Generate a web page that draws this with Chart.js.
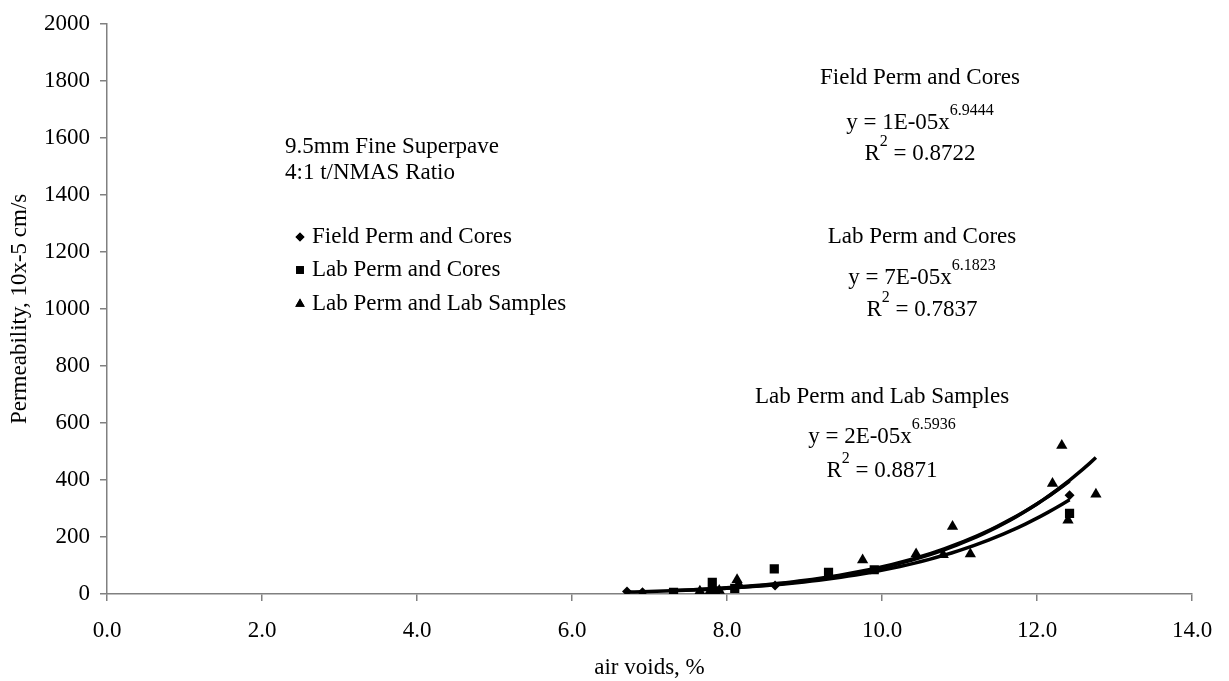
<!DOCTYPE html>
<html>
<head>
<meta charset="utf-8">
<script src="https://cdn.jsdelivr.net/npm/chart.js@4.4.1/dist/chart.umd.min.js"></script>
<style>
    html, body { margin: 0; padding: 0; background: #fff; }
    #wrap { width: 1229px; height: 681px; }
</style>
</head>
<body>
<div id="wrap"><canvas id="chart"></canvas></div>
<script>
// air voids (%) and permeability (10x-5 cm/s)
const fieldVoids = [6.71, 6.91, 8.62, 12.42];
const fieldPerm = [9, 6, 30, 346];

const labCoreVoids = [7.31, 7.81, 7.85, 8.10, 8.61, 9.31, 9.90, 12.42];
const labCorePerm = [6, 41, 10, 20, 88, 76, 85, 283];

const labSampleVoids = [7.65, 7.78, 7.90, 8.13, 8.15, 9.75, 10.44, 10.79, 10.91, 11.14, 12.20, 12.32, 12.40, 12.76];
const labSamplePerm = [10, 10, 12, 50, 35, 119, 140, 138, 237, 140, 388, 521, 259, 350];

const seriesNames = ["Field Perm and Cores", "Lab Perm and Cores", "Lab Perm and Lab Samples"];
const seriesStyles = ["rectRot", "rect", "triangle"];

const xTicks = [0, 2, 4, 6, 8, 10, 12, 14];
const yTicks = [0, 200, 400, 600, 800, 1000, 1200, 1400, 1600, 1800, 2000];

const noteLines = ["9.5mm Fine Superpave", "4:1 t/NMAS Ratio"];
const eqTitles = ["Field Perm and Cores", "Lab Perm and Cores", "Lab Perm and Lab Samples"];
const eqCoef = ["y = 1E-05x", "y = 7E-05x", "y = 2E-05x"];
const eqExp = ["6.9444", "6.1823", "6.5936"];
const eqR2 = ["0.8722", "0.7837", "0.8871"];

const FONT = "'Liberation Serif', 'Times New Roman', serif";
const BIG = "23px " + FONT;
const SUP = "16px " + FONT;

// power trendline y = a*x^b, least squares in log space (like Excel)
function powerFit(xs, ys) {
    const n = xs.length;
    let sx = 0, sy = 0, sxy = 0, sxx = 0;
    for (let i = 0; i < n; i++) {
        const lx = Math.log(xs[i]), ly = Math.log(ys[i]);
        sx += lx; sy += ly; sxy += lx * ly; sxx += lx * lx;
    }
    const b = (n * sxy - sx * sy) / (n * sxx - sx * sx);
    const a = Math.exp((sy - b * sx) / n);
    const lo = Math.min(...xs), hi = Math.max(...xs);
    const pts = [];
    for (let i = 0; i <= 60; i++) {
        const x = lo + (hi - lo) * i / 60;
        pts.push({ x: x, y: a * Math.pow(x, b) });
    }
    return pts;
}

function toPoints(xs, ys) {
    return xs.map((x, i) => ({ x: x, y: ys[i] }));
}

const allX = [fieldVoids, labCoreVoids, labSampleVoids];
const allY = [fieldPerm, labCorePerm, labSamplePerm];
const radii = [5, 6.5, 6.5];

const datasets = [];
allX.forEach((xs, i) => {
    datasets.push({
        label: seriesNames[i],
        data: toPoints(xs, allY[i]),
        pointStyle: seriesStyles[i],
        pointRadius: radii[i],
        backgroundColor: "#000",
        borderColor: "#000",
        borderWidth: 0,
        showLine: false,
        order: 1
    });
});
allX.forEach((xs, i) => {
    datasets.push({
        label: seriesNames[i] + " trend",
        data: powerFit(xs, allY[i]),
        showLine: true,
        pointRadius: 0,
        borderColor: "#000",
        borderWidth: 3.5,
        tension: 0,
        order: 2
    });
});

function drawEquation(ctx, cx, cy, base, sup) {
    ctx.font = BIG;
    const wb = ctx.measureText(base).width;
    ctx.font = SUP;
    const ws = ctx.measureText(sup).width;
    const start = cx - (wb + ws) / 2;
    ctx.textAlign = "left";
    ctx.font = BIG;
    ctx.fillText(base, start, cy);
    ctx.font = SUP;
    ctx.fillText(sup, start + wb, cy - 12);
}

function drawR2(ctx, cx, cy, value) {
    ctx.font = BIG;
    const wR = ctx.measureText("R").width;
    const rest = " = " + value;
    const wRest = ctx.measureText(rest).width;
    ctx.font = SUP;
    const w2 = ctx.measureText("2").width;
    const start = cx - (wR + w2 + wRest) / 2;
    ctx.textAlign = "left";
    ctx.font = BIG;
    ctx.fillText("R", start, cy);
    ctx.fillText(rest, start + wR + w2, cy);
    ctx.font = SUP;
    ctx.fillText("2", start + wR, cy - 12);
}

const textPlugin = {
    id: "textPlugin",
    afterDraw(chart) {
        const ctx = chart.ctx;
        const area = chart.chartArea;
        ctx.save();
        ctx.fillStyle = "#000";
        ctx.textBaseline = "middle";

        // axis titles
        ctx.font = BIG;
        ctx.textAlign = "center";
        ctx.fillText("air voids, %", (area.left + area.right) / 2, 668);
        ctx.save();
        ctx.translate(20, (area.top + area.bottom) / 2);
        ctx.rotate(-Math.PI / 2);
        ctx.fillText("Permeability, 10x-5 cm/s", 0, 0);
        ctx.restore();

        // note
        ctx.textAlign = "left";
        ctx.fillText(noteLines[0], 285, 147);
        ctx.fillText(noteLines[1], 285, 173);

        // legend
        const legendY = [237, 270, 304];
        seriesNames.forEach((name, i) => {
            ctx.font = BIG;
            ctx.textAlign = "left";
            ctx.fillText(name, 312, legendY[i]);
            Chart.helpers.drawPoint(ctx, {
                pointStyle: seriesStyles[i],
                radius: i === 0 ? 4.5 : 5.5,
                borderWidth: 0
            }, 300, legendY[i]);
            ctx.fill();
        });

        // trendline labels
        const eqX = [920, 922, 882];
        const eqY = [[78, 123, 154], [237, 278, 310], [397, 437, 471]];
        eqTitles.forEach((t, i) => {
            ctx.font = BIG;
            ctx.textAlign = "center";
            ctx.fillText(t, eqX[i], eqY[i][0]);
            drawEquation(ctx, eqX[i], eqY[i][1], eqCoef[i], eqExp[i]);
            drawR2(ctx, eqX[i], eqY[i][2], eqR2[i]);
        });
        ctx.restore();
    }
};

new Chart(document.getElementById("chart"), {
    type: "scatter",
    data: { datasets: datasets },
    options: {
        responsive: true,
        maintainAspectRatio: false,
        animation: false,
        layout: { padding: { top: 18, right: 37, left: 0, bottom: 0 } },
        plugins: {
            legend: { display: false },
            tooltip: { enabled: false }
        },
        scales: {
            x: {
                type: "linear",
                min: 0,
                max: 14,
                afterBuildTicks: (scale) => { scale.ticks = xTicks.map(v => ({ value: v })); },
                afterFit: (scale) => { scale.height = 87; },
                ticks: {
                    color: "#000",
                    padding: 16,
                    font: { family: FONT, size: 23 },
                    callback: (v) => Number(v).toFixed(1)
                },
                grid: { drawOnChartArea: false, tickLength: 7, color: "#808080", lineWidth: 1.5 },
                border: { color: "#808080", width: 1.5 }
            },
            y: {
                type: "linear",
                min: 0,
                max: 2000,
                afterBuildTicks: (scale) => { scale.ticks = yTicks.map(v => ({ value: v })); },
                afterFit: (scale) => { scale.width = 107; },
                ticks: {
                    color: "#000",
                    padding: 10,
                    font: { family: FONT, size: 23 },
                    callback: (v) => String(v)
                },
                grid: { drawOnChartArea: false, tickLength: 7, color: "#808080", lineWidth: 1.5 },
                border: { color: "#808080", width: 1.5 }
            }
        }
    },
    plugins: [textPlugin]
});
</script>
</body>
</html>
